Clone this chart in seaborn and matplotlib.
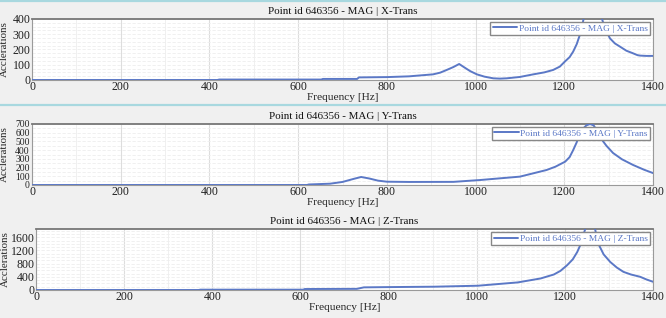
import matplotlib
matplotlib.use("Agg")
import matplotlib.pyplot as plt
from matplotlib.lines import Line2D
from matplotlib.ticker import MultipleLocator
import seaborn as sns
import pandas as pd

# ---- data ----
x_freq = [0, 418, 422, 652, 656, 733, 737, 800, 850, 904, 920, 935, 950, 963, 975, 988,
          1003, 1020, 1040, 1055, 1070, 1100, 1130, 1155, 1175, 1190, 1201, 1212, 1220,
          1228, 1235, 1240, 1243, 1252, 1264, 1276, 1285, 1293, 1303, 1314, 1326, 1340,
          1355, 1365, 1371, 1385, 1400]
x_vals = [0, 0, 3, 3, 7, 7, 17, 19, 24, 37, 48, 66, 85, 105, 82, 58,
          37, 22, 11, 9, 11, 20, 37, 50, 66, 88, 120, 150, 186,
          235, 295, 350, 394, 500, 560, 480, 400, 330, 273, 240, 218, 192,
          175, 163, 160, 158, 158]

y_freq = [0, 620, 624, 672, 700, 725, 742, 760, 780, 800, 850, 950, 1010, 1100, 1160,
          1180, 1202, 1212, 1220, 1228, 1235, 1243, 1250, 1258, 1266, 1273, 1280, 1295,
          1310, 1330, 1355, 1380, 1400]
y_vals = [0, 0, 6, 15, 35, 70, 92, 75, 50, 38, 35, 36, 57, 96, 172,
          210, 268, 320, 400, 490, 593, 650, 685, 700, 685, 630, 552, 450,
          367, 295, 230, 175, 137]

z_freq = [0, 369, 373, 606, 610, 728, 744, 800, 904, 1003, 1093, 1145, 1175, 1190, 1205,
          1218, 1228, 1234, 1239, 1250, 1258, 1266, 1276, 1288, 1303, 1318, 1333, 1350,
          1371, 1385, 1400]
z_vals = [0, 0, 10, 10, 30, 35, 80, 88, 100, 130, 230, 350, 470, 580, 750,
          930, 1150, 1330, 1550, 2000, 2200, 2000, 1400, 1080, 850, 680, 550, 470,
          400, 320, 250]

titles = ["Point id 646356 - MAG | X-Trans",
          "Point id 646356 - MAG | Y-Trans",
          "Point id 646356 - MAG | Z-Trans"]
y_limits = [400, 700, 1850]
y_ticks = [[0, 100, 200, 300, 400],
           [0, 100, 200, 300, 400, 500, 600, 700],
           [0, 400, 800, 1200, 1600]]
y_minor = [25, 50, 100]
x_ticks = [0, 200, 400, 600, 800, 1000, 1200, 1400]

# ---- style ----
sns.set_style("white")
plt.rcParams['font.family'] = ['Liberation Serif', 'DejaVu Serif']
plt.rcParams['font.size'] = 8

line_color = "#5b78c6"
bg = "#f0f0f0"

fig = plt.figure(figsize=(6.66, 3.18), dpi=100, facecolor=bg)

positions = [
    [32 / 666, 1 - 80 / 318, (653 - 32) / 666, 61 / 318],
    [32 / 666, 1 - 185 / 318, (653 - 32) / 666, 61 / 318],
    [36 / 666, 1 - 290 / 318, (653 - 36) / 666, 61 / 318],
]

datasets = [(x_freq, x_vals), (y_freq, y_vals), (z_freq, z_vals)]

for i, ((fr, vals), title) in enumerate(zip(datasets, titles)):
    ax = fig.add_axes(positions[i])
    ax.set_facecolor("white")
    df = pd.DataFrame({"Frequency": fr, "Acc": vals})
    sns.lineplot(data=df, x="Frequency", y="Acc", ax=ax, color=line_color,
                 linewidth=1.4, label=title, zorder=3)
    ax.set_xticks(x_ticks)
    ax.set_yticks(y_ticks[i])
    ax.xaxis.set_minor_locator(MultipleLocator(100))
    ax.yaxis.set_minor_locator(MultipleLocator(y_minor[i]))
    ax.set_xlim(0, 1400)
    ax.set_ylim(0, y_limits[i])
    ax.grid(which="major", axis="x", color="#dddddd", linewidth=0.8)
    ax.grid(which="minor", axis="x", color="#eeeeee", linewidth=0.6)
    ax.grid(which="both", axis="y", color="#eeeeee", linewidth=0.6, linestyle=(0, (4, 2)))
    ax.tick_params(axis="both", which="both", length=0, pad=1, labelsize=8.6,
                   labelcolor="#222222")
    if i == 1:
        ax.tick_params(axis="y", labelsize=6.9, pad=1.5)
    ax.set_xlabel("Frequency [Hz]", fontsize=8.2, labelpad=0)
    ax.xaxis.set_label_coords(0.5, -0.22)
    ax.set_ylabel("Acclerations", fontsize=7.9, labelpad=1)
    ax.yaxis.set_label_coords(-0.037 if i < 2 else -0.043, 0.5)
    ax.set_title(title, fontsize=7.9, pad=3.5, color="#111111")
    for s in ["left", "right", "bottom"]:
        ax.spines[s].set_color("#9a9a9a")
        ax.spines[s].set_linewidth(0.8)
    ax.spines["top"].set_color("#777777")
    ax.spines["top"].set_linewidth(1.3)
    leg = ax.legend(loc="upper right", fontsize=6.8, frameon=True, fancybox=False,
                    framealpha=1, edgecolor="#888888", borderpad=0.25,
                    handlelength=2.6, handletextpad=0.15, borderaxespad=0.3,
                    labelcolor=line_color)
    leg.get_frame().set_linewidth(1.0)
    leg.set_zorder(5)

for yy in [1 - 1 / 318, 1 - 105 / 318]:
    fig.add_artist(Line2D([0, 1], [yy, yy], color="#a8d8df", linewidth=1.6,
                          transform=fig.transFigure))

fig.savefig("out.png", dpi=100, facecolor=bg)
